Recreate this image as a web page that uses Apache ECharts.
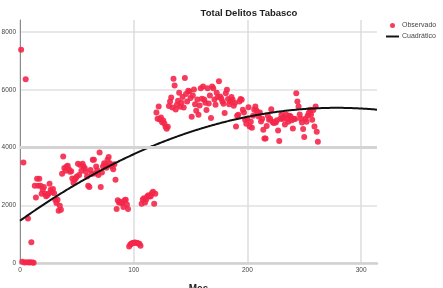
<!DOCTYPE html>
<html>
<head>
<meta charset="utf-8">
<script src="https://cdn.jsdelivr.net/npm/echarts@6/dist/echarts.min.js"></script>
<style>
    html, body {margin: 0; padding: 0; background: #fff;}
    #chartBox {width: 443px; height: 288px;}
</style>
</head>
<body>
<div id="chartBox"></div>
<script>
var meses = [];
for (var i = 1; i <= 262; i++) { meses.push(i); }
var observado = [
    7390, 40, 3480, 20, 6370, 30, 1545, 15, 25, 715, 20, 10,
    2680, 2270, 2920, 2680, 2920, 2680, 2400, 2540, 2630, 2400, 2310, 2350, 2400, 2750,
    2540, 2460, 2560, 2420, 2190, 2080, 2190, 1810, 1980, 1845,
    3090, 3690, 3290, 3200, 3345, 3370, 3250, 3160, 3180, 2930, 2780, 2885, 2940, 3000,
    3440, 3050, 3400, 3200, 3440, 3345, 3280, 3160, 3000, 2680, 2630, 3220, 3080, 3580,
    3580, 3100, 3345, 3210, 3050, 3830, 2630, 3140, 3345, 3460, 3400, 3300, 3580, 3670,
    3460, 3380, 3345, 3250, 3420, 2885,
    1870, 2170, 2100, 2120, 2080, 2100, 1940, 2170, 2190, 2030, 1870,
    575, 645, 670, 690, 700, 710, 700, 690, 680, 670, 600,
    2050, 2200, 2240, 2100, 2200, 2310, 2350, 2300, 2310, 2420, 2470, 2050, 2400,
    5215, 4996, 5422, 4973, 5042, 4880, 4938, 4834, 4720, 4650, 4720, 5436, 5596, 5734,
    5388, 6382, 6150, 5319, 5481, 5620, 5897, 5412, 5550, 5750, 5388, 6406, 5852, 5600,
    5966, 5942, 5713, 5066, 5800, 6011, 5505, 5273, 5665, 5135, 5457, 6059, 5689, 6115,
    5665, 5550, 5298, 6059, 5527, 5800, 5021, 6115, 6059, 5665, 5481, 5900, 5748, 6302,
    5770, 5700, 5600, 5516, 5194, 5886, 6000, 5680, 5500, 5610, 5750, 5654, 5450, 5540,
    4730, 5100, 5135, 5600, 5680, 5654, 5308, 5215, 4962, 4823, 5000, 5400, 4730, 4893,
    4685, 5100, 5308, 5422, 5284, 5215, 5077, 5215, 4900, 5000, 4616, 4314, 4314, 4750,
    5100, 4962, 5000, 5330, 4893, 4848, 4870, 4870, 4950, 4592, 4224, 5000, 5146, 4986,
    5050, 4800, 5146, 5000, 4893, 5100, 5077, 4950, 4661, 5000, 4986, 5886, 5600, 5422,
    5146, 5000, 4870, 4640, 4363, 5000, 4893, 5100, 5200, 5308, 5146, 4962, 5300, 4730,
    5422, 4546, 4200
];
var xTicks = [0, 100, 200, 300];
var yTicks = [0, 2000, 4000, 6000, 8000];

ChartDelitos();

/**
 * Ajuste cuadratico por minimos cuadrados
 */
function ajusteCuadratico(xs, ys) {
    var n = xs.length, s = [0, 0, 0, 0, 0], t = [0, 0, 0];
    for (var i = 0; i < n; i++) {
        var x = xs[i], p = 1;
        for (var k = 0; k < 5; k++) { s[k] += p; if (k < 3) t[k] += p * ys[i]; p *= x; }
    }
    // resolver sistema 3x3
    var m = [[s[0], s[1], s[2], t[0]], [s[1], s[2], s[3], t[1]], [s[2], s[3], s[4], t[2]]];
    for (var c = 0; c < 3; c++) {
        for (var r = c + 1; r < 3; r++) {
            var f = m[r][c] / m[c][c];
            for (var j = c; j < 4; j++) m[r][j] -= f * m[c][j];
        }
    }
    var b = [0, 0, 0];
    for (var r2 = 2; r2 >= 0; r2--) {
        var v = m[r2][3];
        for (var j2 = r2 + 1; j2 < 3; j2++) v -= m[r2][j2] * b[j2];
        b[r2] = v / m[r2][r2];
    }
    return b;
}

function ChartDelitos() {
    var myChart = echarts.init(document.getElementById('chartBox'));
    var puntos = meses.map(function (m, i) { return [m, observado[i]]; });
    var b = ajusteCuadratico(meses, observado);
    var curva = [];
    for (var x = 0; x <= 314; x += 2) {
        curva.push([x, b[0] + b[1] * x + b[2] * x * x]);
    }
    var fuente = 'Liberation Sans, Arial, sans-serif';
    var option = {
        animation: false,
        title: {
            text: 'Total Delitos Tabasco',
            left: 249, top: 8, padding: 0,
            textAlign: 'center',
            textStyle: {fontFamily: fuente, fontSize: 9.5, fontWeight: 'bold', color: '#222'}
        },
        legend: {
            orient: 'vertical',
            left: 386, top: 22, padding: 0,
            itemWidth: 13, itemHeight: 5, itemGap: 4,
            textStyle: {fontFamily: fuente, fontSize: 7, color: '#444', padding: [0, 0, 0, -2]},
            data: [
                {name: 'Observado', icon: 'circle'},
                {name: 'Cuadrático', icon: 'path://M0,0H20V3H0Z'}
            ]
        },
        grid: {left: 20, right: 66, top: 20, bottom: 25, outerBoundsMode: 'none', containLabel: false},
        xAxis: {
            type: 'value',
            min: 0, max: 314, interval: 100,
            name: 'Mes', nameLocation: 'middle', nameGap: 21,
            nameTextStyle: {fontFamily: fuente, fontSize: 10, fontWeight: 'bold', color: '#222', verticalAlign: 'top'},
            axisLine: {lineStyle: {color: '#d0d0d0', width: 2.5}},
            axisTick: {show: false},
            axisLabel: {fontFamily: fuente, fontSize: 6.5, color: '#444', margin: 4, showMaxLabel: false,
                formatter: function (v) { return xTicks.indexOf(v) >= 0 ? v : ''; }},
            splitLine: {show: true, showMaxLine: false, lineStyle: {color: '#dcdcdc', width: 1.5}}
        },
        yAxis: {
            type: 'value',
            min: 0, max: 8420, interval: 2000,
            axisLine: {show: true, lineStyle: {color: '#8c8c8c', width: 1}},
            axisTick: {show: false},
            axisLabel: {fontFamily: fuente, fontSize: 6.5, color: '#444', margin: 4, showMaxLabel: false,
                formatter: function (v) { return yTicks.indexOf(v) >= 0 ? v : ''; }},
            splitLine: {show: true, showMaxLine: false, lineStyle: {color: '#e0e0e0', width: 1.5}}
        },
        series: [
            {
                name: 'Observado',
                type: 'scatter',
                symbolSize: 6,
                itemStyle: {color: '#f5274a', opacity: 0.9},
                data: puntos,
                markLine: {
                    silent: true, symbol: 'none', label: {show: false},
                    lineStyle: {color: '#d4d4d4', width: 3, type: 'solid'},
                    data: [{yAxis: 4000}]
                },
                z: 3
            },
            {
                name: 'Cuadrático',
                type: 'line',
                symbol: 'none',
                smooth: true,
                lineStyle: {color: '#111', width: 2},
                itemStyle: {color: '#111'},
                data: curva,
                z: 4
            }
        ]
    };
    myChart.setOption(option);
}
</script>
</body>
</html>
